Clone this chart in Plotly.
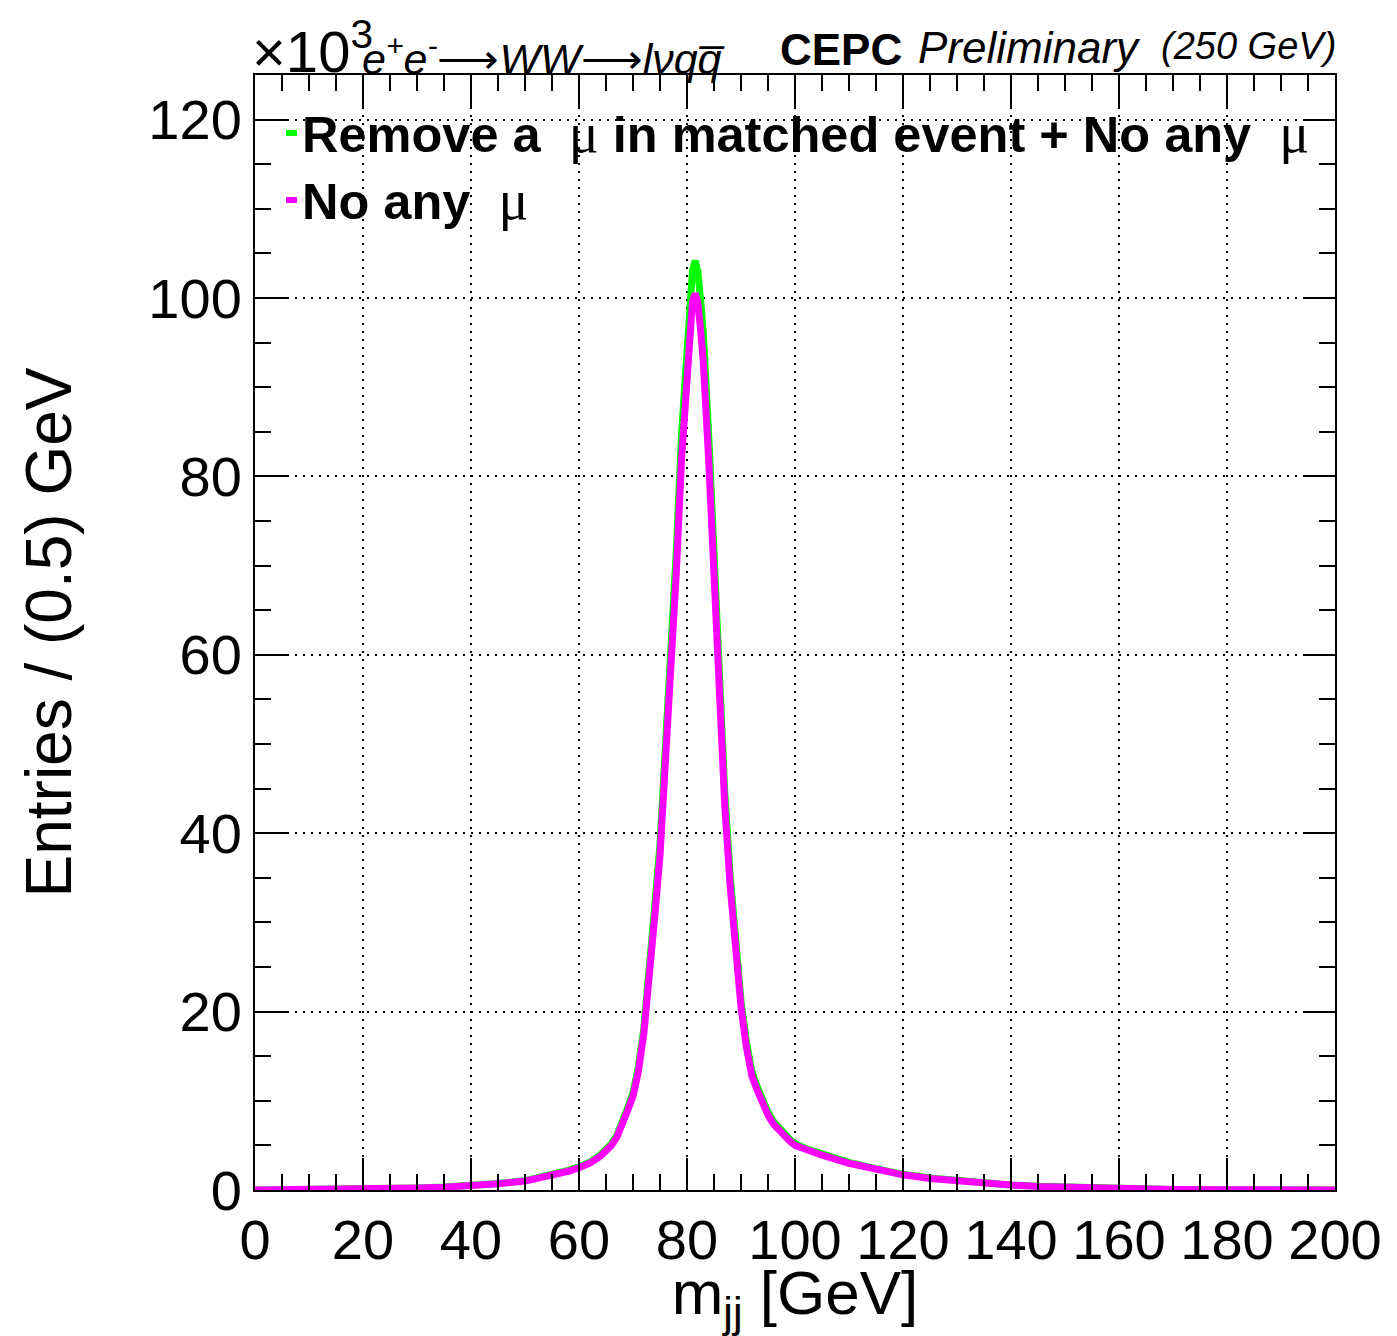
import plotly.graph_objects as go

# ---------------- data (Entries per 0.5 GeV, in units of 10^3) ----------------
mjj_nomu = [0, 10, 20, 25, 30, 35, 40, 45, 50, 55, 58, 60, 62, 64, 65, 66, 67, 68, 69, 70,
            71, 72, 73, 74, 75, 76, 77, 78, 79, 80, 80.5, 81, 81.5, 82, 82.5, 83, 84, 85, 86,
            87, 88, 89, 90, 91, 92, 93, 94, 95, 96, 97, 98, 99, 100, 102, 105, 110, 115, 120,
            125, 130, 135, 140, 145, 150, 155, 160, 170, 180, 190, 200]
entries_nomu = [0.0, 0.02, 0.1, 0.15, 0.22, 0.32, 0.45, 0.7, 1.0, 1.6, 2.1, 2.5, 3.0, 3.8, 4.3,
                5.0, 5.9, 7.2, 8.9, 10.5, 13.3, 17.5, 23.5, 30.5, 37.5, 47.5, 57.0, 69.0, 82.0,
                92.0, 96.5, 99.5, 100.5, 99.5, 96.5, 93.0, 82.0, 68.0, 54.0, 43.0, 34.0, 26.5,
                20.5, 16.0, 12.8, 11.2, 9.6, 8.4, 7.4, 6.7, 6.1, 5.5, 5.0, 4.5, 3.9, 3.0, 2.3,
                1.7, 1.3, 1.0, 0.75, 0.55, 0.4, 0.3, 0.2, 0.15, 0.07, 0.03, 0.01, 0.0]

mjj_rm = [0, 10, 20, 25, 30, 35, 40, 45, 50, 55, 58, 60, 62, 64, 65, 66, 67, 68, 69, 70,
          71, 72, 73, 74, 75, 76, 77, 78, 79, 80, 80.5, 81, 81.5, 82, 82.5, 83, 84, 85, 86,
          87, 88, 89, 90, 91, 92, 93, 94, 95, 96, 97, 98, 99, 100, 102, 105, 110, 115, 120,
          125, 130, 135, 140, 145, 150, 155, 160, 170, 180, 190, 200]
entries_rm = [0.0, 0.02, 0.11, 0.16, 0.23, 0.34, 0.47, 0.73, 1.05, 1.68, 2.2, 2.6, 3.1, 3.95, 4.45,
              5.2, 6.1, 7.45, 9.2, 10.9, 13.8, 18.1, 24.3, 31.6, 38.8, 49.2, 59.0, 71.4, 84.9,
              95.2, 99.9, 103.0, 104.2, 103.0, 99.9, 96.3, 84.9, 70.4, 55.9, 44.5, 35.2, 27.4,
              21.2, 16.6, 13.3, 11.6, 9.95, 8.7, 7.7, 6.95, 6.3, 5.7, 5.2, 4.65, 4.05, 3.1, 2.4,
              1.76, 1.35, 1.04, 0.78, 0.57, 0.41, 0.31, 0.21, 0.15, 0.07, 0.03, 0.01, 0.0]

name_rm = "Remove a  μ in matched event + No any  μ"
name_nomu = "No any  μ"

x_ticks = [0, 20, 40, 60, 80, 100, 120, 140, 160, 180, 200]
y_ticks = [0, 20, 40, 60, 80, 100, 120]

# ---------------- layout helpers ----------------
W, H = 1397, 1336
L, R, T, B = 255, 1335, 75, 1190


def px(x):
    return (x - L) / (R - L)


def py(y):
    return (B - y) / (B - T)


FONT = "Liberation Sans"
GREEN = "#00ff00"
MAGENTA = "#ff00ff"

fig = go.Figure()
fig.add_trace(go.Scatter(x=mjj_rm, y=entries_rm, mode="lines", name=name_rm,
                         line=dict(color=GREEN, width=7), showlegend=False))
fig.add_trace(go.Scatter(x=mjj_nomu, y=entries_nomu, mode="lines", name=name_nomu,
                         line=dict(color=MAGENTA, width=7), showlegend=False))

axis_common = dict(
    showline=True, linecolor="black", linewidth=2, mirror="allticks",
    ticks="inside", ticklen=32, tickwidth=2, tickcolor="black",
    showgrid=True, gridcolor="black", gridwidth=2, griddash="2px,6px",
    zeroline=False,
    tickfont=dict(family=FONT, size=56, color="black"),
)

fig.update_xaxes(range=[0, 200], tickmode="array", tickvals=x_ticks,
                 ticktext=[str(v) for v in x_ticks],
                 minor=dict(dtick=5, ticks="inside", ticklen=16, tickwidth=2,
                            tickcolor="black", showgrid=False),
                 title=dict(text="m<sub>jj</sub> [GeV]",
                            font=dict(family=FONT, size=62, color="black"), standoff=4),
                 **axis_common)
fig.update_yaxes(range=[0, 125], tickmode="array", tickvals=y_ticks,
                 ticktext=[str(v) for v in y_ticks],
                 minor=dict(dtick=5, ticks="inside", ticklen=16, tickwidth=2,
                            tickcolor="black", showgrid=False),
                 title=dict(text="Entries / (0.5) GeV",
                            font=dict(family=FONT, size=64, color="black"), standoff=56),
                 **axis_common)

ann = []
# exponent label
ann.append(dict(x=px(250), y=py(48), xref="paper", yref="paper", xanchor="left", yanchor="middle",
                text="×10<sup>3</sup>", showarrow=False,
                font=dict(family=FONT, size=58, color="black")))
ann.append(dict(x=px(360), y=py(56), xref="paper", yref="paper", xanchor="left", yanchor="middle",
                text="<i>e<sup>+</sup>e<sup>-</sup></i>⟶<i>WW</i>⟶<i>lνqq̅</i>", showarrow=False,
                font=dict(family=FONT, size=43, color="black")))
ann.append(dict(x=px(778), y=py(50), xref="paper", yref="paper", xanchor="left", yanchor="middle",
                text="<b>CEPC</b>", showarrow=False,
                font=dict(family=FONT, size=44, color="black")))
ann.append(dict(x=px(916), y=py(48), xref="paper", yref="paper", xanchor="left", yanchor="middle",
                text="<i>Preliminary</i>", showarrow=False,
                font=dict(family=FONT, size=44, color="black")))
ann.append(dict(x=px(1338), y=py(46), xref="paper", yref="paper", xanchor="right", yanchor="middle",
                text="<i>(250 GeV)</i>", showarrow=False,
                font=dict(family=FONT, size=38, color="black")))


def legend_text(name):
    parts = name.split("μ")
    out = ""
    for i, p in enumerate(parts):
        if p:
            out += "<b>" + p + "</b>"
        if i < len(parts) - 1:
            out += "<span style='font-family:Liberation Serif;font-size:56px'>μ</span>"
    return out


for name, color, yc in [(name_rm, GREEN, 133), (name_nomu, MAGENTA, 200)]:
    ann.append(dict(x=px(300), y=py(yc), xref="paper", yref="paper", xanchor="left",
                    yanchor="middle", text=legend_text(name), showarrow=False,
                    font=dict(family=FONT, size=50.5, color="black")))

shapes = []
for color, yc in [(GREEN, 133), (MAGENTA, 200)]:
    shapes.append(dict(type="rect", xref="paper", yref="paper",
                       x0=px(286), x1=px(297), y0=py(yc + 3), y1=py(yc - 3),
                       fillcolor=color, line=dict(width=0), layer="above"))

fig.update_layout(
    width=W, height=H,
    margin=dict(l=L, r=W - R, t=T, b=H - B, pad=0),
    paper_bgcolor="white", plot_bgcolor="white",
    annotations=ann, shapes=shapes,
    font=dict(family=FONT, color="black"),
)

fig.write_html("out.html")
